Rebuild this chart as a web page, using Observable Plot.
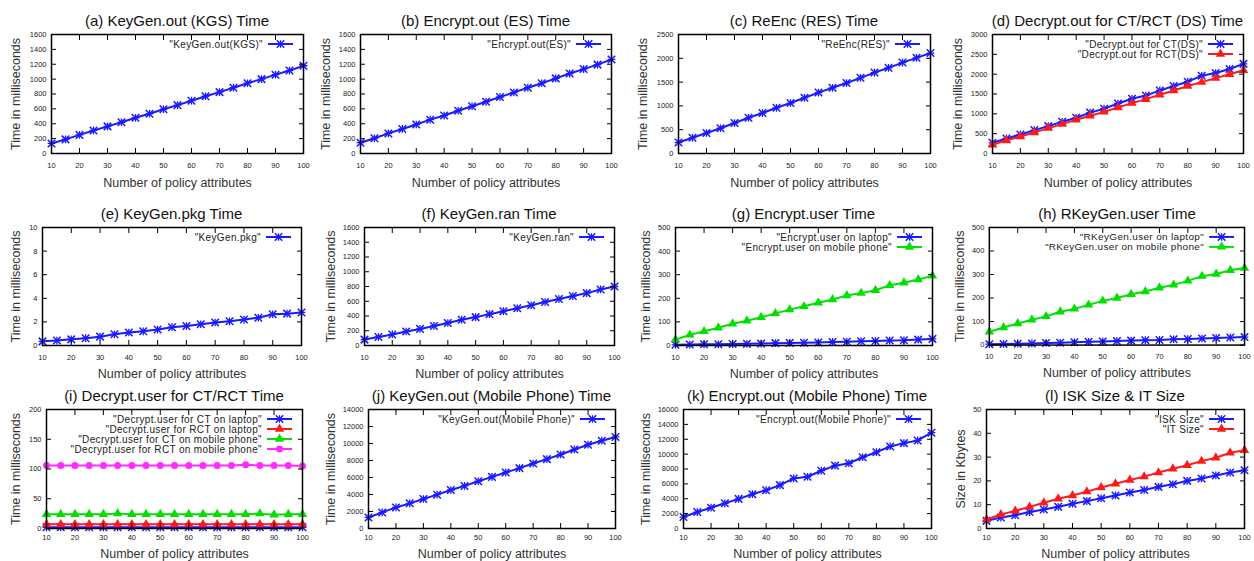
<!DOCTYPE html>
<html><head><meta charset="utf-8">
<script src="https://cdn.jsdelivr.net/npm/d3@7"></script>
<script src="https://cdn.jsdelivr.net/npm/@observablehq/plot@0.6"></script>
<style>
body{margin:0;background:#fff;}
#page{position:relative;width:1254px;height:561px;overflow:hidden;font-family:"Liberation Sans",Arial,sans-serif;background:#fff;}
.title{position:absolute;font-size:15px;color:#111;white-space:nowrap;transform:translate(-50%,-50%);}
.panel{position:absolute;}
.panel svg{overflow:visible;}
</style></head><body><div id="page"></div>
<script>
// ---------- data ----------
const policyAttributes = [10,15,20,25,30,35,40,45,50,55,60,65,70,75,80,85,90,95,100];
const xTickLabels = [10,20,30,40,50,60,70,80,90,100];

const keyGenOutKGS = [135,190,250,310,365,420,480,535,595,650,710,770,825,885,945,1000,1060,1115,1180];
const encryptOutES = [145,205,270,330,390,455,510,575,635,695,760,820,885,945,1010,1075,1135,1195,1265];
const reEncRES = [230,330,430,530,640,750,850,960,1060,1170,1280,1380,1480,1590,1700,1800,1910,2010,2110];
const decryptOutCT = [270,380,480,590,690,800,900,1030,1130,1260,1380,1460,1590,1700,1810,1960,2030,2130,2260];
const decryptOutRCT = [220,330,430,530,640,740,850,950,1050,1160,1270,1370,1480,1590,1700,1800,1900,2000,2100];
const keyGenPkg = [0.35,0.42,0.52,0.62,0.75,0.95,1.1,1.2,1.35,1.55,1.65,1.8,1.95,2.05,2.2,2.35,2.65,2.7,2.8];
const keyGenRan = [80,115,150,190,225,265,305,350,385,425,465,505,545,590,630,670,710,760,800];
const encryptUserLaptop = [3,4,5,5,6,7,8,10,11,12,13,15,16,18,19,21,22,25,28];
const encryptUserPhone = [25,45,60,75,92,105,120,136,152,166,181,195,212,222,234,255,266,280,295];
const rKeyGenUserLaptop = [4,5,6,7,9,10,12,14,15,17,19,21,22,25,26,28,30,32,34];
const rKeyGenUserPhone = [57,75,92,108,122,142,154,171,188,200,216,228,244,256,273,293,302,318,328];
const decryptUserCTLaptop = [2,2,2,2,2,2,2,2,2,2,2,2,2,2,2,2,2,2,2];
const decryptUserRCTLaptop = [7,7,7,7,7,7,7,7,7,7,7,7,7,7,7,7,7,7,7];
const decryptUserCTPhone = [24,24,24,24,24,25,24,24,24,24,24,24,24,24,24,25,23,24,24];
const decryptUserRCTPhone = [106,106,106,106,106,106,106,106,106,106,106,106,106,106,107,106,106,106,105];
const keyGenOutPhone = [1300,1890,2480,2960,3470,3980,4530,5010,5560,6070,6590,7100,7650,8160,8710,9300,9860,10330,10770];
const encryptOutPhone = [1540,2210,2800,3390,3980,4610,5150,5830,6730,6960,7770,8450,8770,9580,10260,11030,11480,11840,12880];
const iskSize = [3.2,4.6,5.6,6.9,8.0,9.1,10.4,11.5,12.7,13.9,15.1,16.2,17.5,18.6,20.0,21.0,22.3,23.5,24.5];
const itSize = [3.8,5.9,7.4,9.1,10.8,12.5,13.9,15.5,17.2,18.8,20.4,21.8,23.5,25.1,26.6,28.3,29.7,31.8,32.9];

const yTicks1600 = [0,200,400,600,800,1000,1200,1400,1600];
const yTicks2500 = [0,500,1000,1500,2000,2500];
const yTicks3000 = [0,500,1000,1500,2000,2500,3000];
const yTicks10 = [0,2,4,6,8,10];
const yTicks500 = [0,100,200,300,400,500];
const yTicks200 = [0,50,100,150,200];
const yTicks14000 = [0,2000,4000,6000,8000,10000,12000,14000];
const yTicks16000 = [0,2000,4000,6000,8000,10000,12000,14000,16000];
const yTicks50 = [0,10,20,30,40,50];

const titles = ["(a) KeyGen.out (KGS) Time","(b) Encrypt.out (ES) Time","(c) ReEnc (RES) Time","(d) Decrypt.out for CT/RCT (DS) Time",
  "(e) KeyGen.pkg Time","(f) KeyGen.ran Time","(g) Encrypt.user Time","(h) RKeyGen.user Time",
  "(i) Decrypt.user for CT/RCT Time","(j) KeyGen.out (Mobile Phone) Time","(k) Encrypt.out (Mobile Phone) Time","(l) ISK Size & IT Size"];
const xLabel = "Number of policy attributes";
const timeLabel = "Time in milliseconds";
const sizeLabel = "Size in Kbytes";

// ---------- styles ----------
const BLUE = "#1a1aff", RED = "#ff1a1a", GREEN = "#00e000", MAGENTA = "#ff2bff";
const S = (name, values, color, symbol) => ({name, values, color, symbol});

const panels = [
  {ticks: yTicks1600, ylab: timeLabel, series: [S("KeyGen.out(KGS)", keyGenOutKGS, BLUE, "star")]},
  {ticks: yTicks1600, ylab: timeLabel, series: [S("Encrypt.out(ES)", encryptOutES, BLUE, "star")]},
  {ticks: yTicks2500, ylab: timeLabel, series: [S("ReEnc(RES)", reEncRES, BLUE, "star")]},
  {ticks: yTicks3000, ylab: timeLabel, series: [S("Decrypt.out for CT(DS)", decryptOutCT, BLUE, "star"), S("Decrypt.out for RCT(DS)", decryptOutRCT, RED, "triangle")]},
  {ticks: yTicks10, ylab: timeLabel, series: [S("KeyGen.pkg", keyGenPkg, BLUE, "star")]},
  {ticks: yTicks1600, ylab: timeLabel, series: [S("KeyGen.ran", keyGenRan, BLUE, "star")]},
  {ticks: yTicks500, ylab: timeLabel, series: [S("Encrypt.user on laptop", encryptUserLaptop, BLUE, "star"), S("Encrypt.user on mobile phone", encryptUserPhone, GREEN, "triangle")]},
  {ticks: yTicks500, ylab: timeLabel, series: [S("RKeyGen.user on laptop", rKeyGenUserLaptop, BLUE, "star"), S("RKeyGen.user on mobile phone", rKeyGenUserPhone, GREEN, "triangle")]},
  {ticks: yTicks200, ylab: timeLabel, series: [S("Decrypt.user for CT on laptop", decryptUserCTLaptop, BLUE, "star"), S("Decrypt.user for RCT on laptop", decryptUserRCTLaptop, RED, "triangle"), S("Decrypt.user for CT on mobile phone", decryptUserCTPhone, GREEN, "triangle"), S("Decrypt.user for RCT on mobile phone", decryptUserRCTPhone, MAGENTA, "circle")]},
  {ticks: yTicks14000, ylab: timeLabel, series: [S("KeyGen.out(Mobile Phone)", keyGenOutPhone, BLUE, "star")]},
  {ticks: yTicks16000, ylab: timeLabel, series: [S("Encrypt.out(Mobile Phone)", encryptOutPhone, BLUE, "star")]},
  {ticks: yTicks50, ylab: sizeLabel, series: [S("ISK Size", iskSize, BLUE, "star"), S("IT Size", itSize, RED, "triangle")]}
];

// ---------- layout (page px): frame [left, top, right, bottom], y-label x ----------
const frames = [
  [51,34,303,153],[360,34,611,153],[678,34,930,153],[992,34,1243,153],
  [42,227,301,345],[364,227,614,345],[675,227,932,345],[989,227,1245,345],
  [46,409,302,528],[368,409,615,528],[683,409,931,528],[986,409,1244,528]
];
const yLabelX = [15,325,642,957, 15,330,645,960, 15,330,645,960];
const rowTitleY = [20,213,395];
const rowTickOff = [9,9,6];
const rowXLabelOff = [29,28,25];

const FONT = '"Liberation Sans", Arial, sans-serif';

function legendMark(series) {
  return (index, scales, values, dims) => {
    const g = d3.create("svg:g").attr("font-family", FONT);
    const right = dims.width - dims.marginRight;
    series.forEach((s, i) => {
      const y = dims.marginTop + 10 + i * 10;
      g.append("text").attr("x", right - 40).attr("y", y).attr("dy", "0.35em")
        .attr("text-anchor", "end").attr("font-size", 10).attr("letter-spacing", "0.35px").attr("fill", "#222")
        .text(`"${s.name}"`);
      g.append("line").attr("x1", right - 35).attr("x2", right - 10).attr("y1", y).attr("y2", y)
        .attr("stroke", s.color).attr("stroke-width", 2);
      const cx = right - 22.5;
      if (s.symbol === "star") {
        g.append("path").attr("transform", `translate(${cx},${y})`).attr("d", d3.symbol(d3.symbolTimes, 38)())
          .attr("stroke", s.color).attr("stroke-width", 1.5).attr("fill", "none");
        g.append("path").attr("transform", `translate(${cx},${y})`).attr("d", d3.symbol(d3.symbolPlus, 20)())
          .attr("stroke", s.color).attr("stroke-width", 1.3).attr("fill", "none");
      } else {
        const sym = s.symbol === "circle" ? d3.symbolCircle : d3.symbolTriangle;
        g.append("path").attr("transform", `translate(${cx},${y})`).attr("d", d3.symbol(sym, 38)())
          .attr("fill", s.color);
      }
    });
    return g.node();
  };
}

const page = document.getElementById("page");
panels.forEach((p, k) => {
  const [fl, ft, fr, fb] = frames[k];
  const row = Math.floor(k / 4);
  const svgLeft = Math.max(0, fl - 48);
  const svgTop = ft - 10;
  const mL = fl - svgLeft, mT = 10, mR = 10, mB = 33;
  const width = fr - svgLeft + mR;
  const height = fb - svgTop + mB;
  const marks = [];
  p.series.forEach(s => {
    const data = policyAttributes.map((x, i) => ({x, y: s.values[i]}));
    marks.push(Plot.line(data, {x: "x", y: "y", stroke: s.color, strokeWidth: 2}));
    if (s.symbol === "star") {
      marks.push(Plot.dot(data, {x: "x", y: "y", symbol: "times", r: 3.5, stroke: s.color, strokeWidth: 1.5}));
      marks.push(Plot.dot(data, {x: "x", y: "y", symbol: "plus", r: 2.6, stroke: s.color, strokeWidth: 1.3}));
    } else {
      marks.push(Plot.dot(data, {x: "x", y: "y", symbol: s.symbol, r: 3.5, fill: s.color, stroke: "none"}));
    }
  });
  const fmt = d => String(d);
  marks.push(
    Plot.frame({stroke: "#000", strokeWidth: 1.5}),
    Plot.axisX({anchor: "bottom", ticks: xTickLabels, tickSize: -5, tickPadding: 5 + rowTickOff[row], tickFormat: fmt, label: null, fontSize: 7.5, stroke: "#000"}),
    Plot.axisX({anchor: "top", ticks: xTickLabels, tickSize: -5, tickFormat: () => "", label: null, stroke: "#000"}),
    Plot.axisY({anchor: "left", ticks: p.ticks, tickSize: -5, tickPadding: 10, tickFormat: fmt, label: null, fontSize: 7.5, stroke: "#000"}),
    Plot.axisY({anchor: "right", ticks: p.ticks, tickSize: -5, tickFormat: () => "", label: null, stroke: "#000"}),
    Plot.text([xLabel], {text: d => d, frameAnchor: "bottom", textAnchor: "middle", lineAnchor: "middle", dy: rowXLabelOff[row], fontSize: 12.5, fill: "#333"}),
    Plot.text([p.ylab], {text: d => d, frameAnchor: "left", textAnchor: "middle", lineAnchor: "middle", rotate: -90, dx: yLabelX[k] - fl, fontSize: 12.5, fill: "#333"}),
    legendMark(p.series)
  );
  const chart = Plot.plot({
    width, height,
    marginLeft: mL, marginTop: mT, marginRight: mR, marginBottom: mB,
    x: {domain: [10, 100]},
    y: {domain: [p.ticks[0], p.ticks[p.ticks.length - 1]]},
    style: {fontFamily: FONT, fontSize: "7.5px", background: "transparent", color: "#222", overflow: "visible"},
    marks
  });
  const div = document.createElement("div");
  div.className = "panel";
  div.style.left = svgLeft + "px";
  div.style.top = svgTop + "px";
  div.appendChild(chart);
  page.appendChild(div);

  const t = document.createElement("div");
  t.className = "title";
  t.textContent = titles[k];
  t.style.left = ((fl + fr) / 2) + "px";
  t.style.top = rowTitleY[row] + "px";
  page.appendChild(t);
});
</script>
</body></html>
